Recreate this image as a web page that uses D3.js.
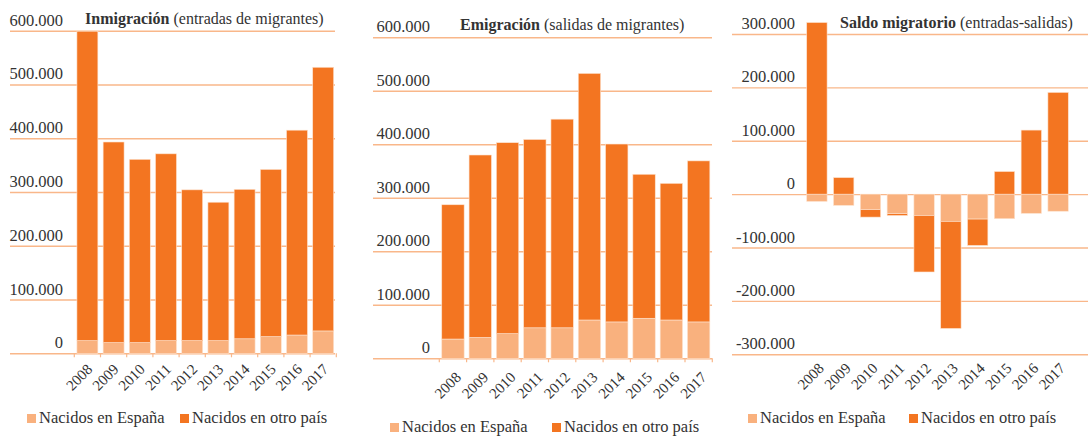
<!DOCTYPE html>
<html>
<head>
<meta charset="utf-8">
<script src="https://cdn.jsdelivr.net/npm/d3@7"></script>
<style>
  body { margin: 0; background: #fff; }
  svg { display: block; }
  svg text { font-family: "Liberation Serif", "DejaVu Serif", serif; }
</style>
</head>
<body>
<svg id="chart" width="1088" height="436"></svg>
<script>
// values
const years = ["2008", "2009", "2010", "2011", "2012", "2013", "2014", "2015", "2016", "2017"];

const immSpain = [23500, 19800, 19800, 23500, 23500, 23500, 27000, 31000, 34000, 41600];
const immForeign = [575500, 373200, 341000, 347500, 280500, 257500, 278000, 311000, 381000, 490400];

const emiSpain = [36000, 39000, 46000, 57000, 57000, 71600, 68000, 74800, 71600, 68000];
const emiForeign = [251000, 341000, 357000, 352000, 390000, 460900, 332500, 269200, 255400, 301000];

const netSpain = [-13600, -21000, -29000, -36600, -40000, -51000, -46700, -46000, -36000, -32000];
const netForeign = [321500, 31000, -14000, -3400, -105800, -200600, -49300, 42400, 120000, 190600];

const flowTicks = [0, 100000, 200000, 300000, 400000, 500000, 600000];
const netTicks = [-300000, -200000, -100000, 0, 100000, 200000, 300000];

const legendLabels = ["Nacidos en España", "Nacidos en otro país"];

const colors = { spain: "#F9B17E", foreign: "#F37521", grid: "#F9B78A", text: "#333" };

const locale = d3.formatLocale({ decimal: ",", thousands: ".", grouping: [3], currency: ["", "€"], minus: "-" });
const fmt = locale.format(",.0f");

const panels = [
  {
    title: "Inmigración", sub: " (entradas de migrantes)",
    spain: immSpain, foreign: immForeign, domain: [0, 600000], ticks: flowTicks,
    top: 30.7, bottom: 353.3, gridX: [10, 335], band: [74.3, 336.3], pad: 0.2,
    labelX: 63, titleX: 85, titleY: 24, yearOff: [6, 17], zeroTicks: true,
    legendX: [27, 180], legendY: 423
  },
  {
    title: "Emigración", sub: " (salidas de migrantes)",
    spain: emiSpain, foreign: emiForeign, domain: [0, 600000], ticks: flowTicks,
    top: 37.3, bottom: 358.3, gridX: [373, 712], band: [439.3, 712.3], pad: 0.18,
    labelX: 430, titleX: 460, titleY: 30, yearOff: [9, 20], zeroTicks: true,
    legendX: [390, 552], legendY: 432
  },
  {
    title: "Saldo migratorio", sub: " (entradas-salidas)",
    spain: netSpain, foreign: netForeign, domain: [-300000, 300000], ticks: netTicks,
    top: 34, bottom: 354.3, gridX: [732, 1088], band: [803.5, 1071.5], pad: 0.24,
    labelX: 795, titleX: 840, titleY: 28, yearOff: [8, 15], zeroTicks: false,
    legendX: [748, 909], legendY: 423
  }
];

const svg = d3.select("#chart");

panels.forEach(p => {
  const g = svg.append("g");

  const y = d3.scaleLinear().domain(p.domain).range([p.bottom, p.top]);
  const x = d3.scaleBand().domain(years).range(p.band)
    .paddingInner(p.pad).paddingOuter(p.pad / 2);

  // gridlines + value labels
  const yAxis = g.append("g")
    .attr("transform", `translate(${p.gridX[0]},0)`)
    .call(d3.axisLeft(y).tickValues(p.ticks).tickFormat(fmt)
      .tickSize(-(p.gridX[1] - p.gridX[0])))
    .attr("font-family", null)
    .attr("font-size", null);
  yAxis.select(".domain").remove();
  yAxis.selectAll(".tick line").attr("stroke", colors.grid).attr("stroke-width", 1.4);
  yAxis.selectAll(".tick text")
    .attr("x", p.labelX - p.gridX[0])
    .attr("dy", -5.5)
    .attr("text-anchor", "end")
    .attr("fill", colors.text)
    .style("font-size", "16.5px");

  // stacked bars, negatives stacked downward
  const rows = years.map((yr, i) => ({ year: yr, spain: p.spain[i], foreign: p.foreign[i] }));
  const series = d3.stack().keys(["spain", "foreign"]).offset(d3.stackOffsetDiverging)(rows);

  g.append("g").selectAll("g")
    .data(series)
    .join("g")
    .attr("fill", d => colors[d.key])
    .selectAll("rect")
    .data(d => d)
    .join("rect")
    .attr("x", d => x(d.data.year))
    .attr("width", x.bandwidth())
    .attr("y", d => y(Math.max(d[0], d[1])))
    .attr("height", d => Math.abs(y(d[0]) - y(d[1])))
    .attr("stroke", "#fde3cf")
    .attr("stroke-width", 0.6);

  // small ticks between bars on the zero line
  if (p.zeroTicks) {
    const half = x.step() * p.pad / 2;
    const edges = years.map(yr => x(yr) - half).concat([x(years[years.length - 1]) + x.bandwidth() + half]);
    g.append("g").selectAll("line")
      .data(edges)
      .join("line")
      .attr("x1", d => d).attr("x2", d => d)
      .attr("y1", y(0)).attr("y2", y(0) + 4)
      .attr("stroke", colors.grid)
      .attr("stroke-width", 1.2);
  }

  // year labels
  const xAxis = g.append("g")
    .attr("transform", `translate(0,${y(p.domain[0])})`)
    .call(d3.axisBottom(x).tickSize(0))
    .attr("font-family", null)
    .attr("font-size", null);
  xAxis.select(".domain").remove();
  xAxis.selectAll(".tick text")
    .attr("x", 0).attr("y", 0).attr("dy", 0)
    .attr("text-anchor", "end")
    .attr("transform", `translate(${p.yearOff[0]},${p.yearOff[1]}) rotate(-45)`)
    .attr("fill", colors.text)
    .style("font-size", "15px");

  // title
  const t = g.append("text")
    .attr("x", p.titleX).attr("y", p.titleY)
    .attr("fill", colors.text)
    .style("font-size", "16px");
  t.append("tspan").attr("font-weight", "bold").text(p.title);
  t.append("tspan").text(p.sub);

  // legend
  const leg = g.append("g").selectAll("g")
    .data(legendLabels)
    .join("g")
    .attr("transform", (d, i) => `translate(${p.legendX[i]},${p.legendY})`);
  leg.append("rect")
    .attr("x", 0).attr("y", -9)
    .attr("width", 9).attr("height", 9)
    .attr("fill", (d, i) => i === 0 ? colors.spain : colors.foreign);
  leg.append("text")
    .attr("x", 12).attr("y", 0)
    .attr("fill", colors.text)
    .style("font-size", "16.5px")
    .text(d => d);
});
</script>
</body>
</html>
